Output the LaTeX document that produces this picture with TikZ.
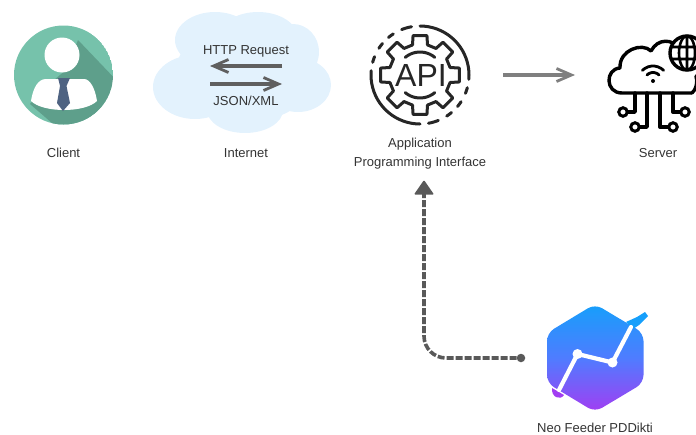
\documentclass[tikz,border=0pt]{standalone}
\usepackage{fontspec}
\setmainfont{Liberation Sans}
\usetikzlibrary{arrows.meta}
\definecolor{txt}{HTML}{333333}
\definecolor{teal1}{HTML}{76C2AB}
\definecolor{teal2}{HTML}{5E9F8B}
\definecolor{tiec}{HTML}{4F6382}
\definecolor{cloudc}{HTML}{E3F2FD}
\definecolor{arrc}{HTML}{5F5F5F}
\definecolor{dashc}{HTML}{595959}
\definecolor{hextop}{HTML}{169FFB}
\definecolor{hexmid}{HTML}{4F7CFF}
\definecolor{hexbot}{HTML}{A23DF2}
\tikzset{
  lab/.style={font=\fontsize{13}{15}\selectfont,text=txt,inner sep=0pt,align=center},
  flow/.style={draw=arrc,line width=3.2pt,-{Straight Barb[length=15pt,width=13pt,line width=2.8pt]}},
  gearline/.style={draw=black!85,line width=3pt,line cap=round,line join=round},
  srv/.style={draw=black,line width=3.4pt,line cap=round,line join=round},
  pin/.style={draw=black,line width=3pt,fill=white,circle,inner sep=0pt,minimum size=8.5pt},
}
\begin{document}
\begin{tikzpicture}[x=1pt,y=-1pt]
\useasboundingbox (0,0) rectangle (696,434);
% Client icon
\begin{scope}
  \clip (63.5,75) circle (49.5);
  \fill[teal1] (63.5,75) circle (49.5);
  \fill[teal2] (78,40) -- (120,84) -- (120,130) -- (60,130) -- (30,104) -- (48,85) -- (66,70) -- cycle;
\end{scope}
\fill[white] (62,55) circle (17.5);
\fill[white] (31,101) .. controls (33,88) and (38,79) .. (46,79) -- (84,79)
  .. controls (90,79) and (95,88) .. (97,101) .. controls (85,113) and (43,113) .. (31,101) -- cycle;
\fill[tiec] (58,78) -- (70,78) -- (66.5,86) -- (70,103) -- (63,111) -- (57,103) -- (60,86) -- cycle;
\node[lab] (client) at (63.5,153) {Client};
% Cloud
\fill[cloudc] (246,72) ellipse (70 and 50)
  (215,40) ellipse (40 and 28)
  (258,38) ellipse (40 and 26)
  (293,52) ellipse (26 and 28)
  (298,85) ellipse (33 and 27)
  (245,110) ellipse (38 and 23)
  (195,87) ellipse (42 and 32);
\node[lab] (http) at (246,51) {HTTP Request};
\node[lab] (json) at (246,101) {JSON/XML};
\node[lab] (internet) at (246,153) {Internet};
\coordinate (cr1) at (282,66);
\coordinate (cl1) at (210,66);
\coordinate (cl2) at (210,84);
\coordinate (cr2) at (282,84);
\draw[flow] (cr1) -- (cl1);
\draw[flow] (cl2) -- (cr2);
% API gear
\begin{scope}[shift={(420,75)}]
  \foreach \a in {0,45,...,315}{
    \draw[gearline] ({31*cos(\a-14)},{31*sin(\a-14)}) -- ({40*cos(\a-10)},{40*sin(\a-10)}) -- ({40*cos(\a+10)},{40*sin(\a+10)}) -- ({31*cos(\a+14)},{31*sin(\a+14)}) -- ({31*cos(\a+31)},{31*sin(\a+31)});
  }
  \draw[gearline] plot[smooth,domain=130:50,samples=12] ({23*cos(\x)},{-23*sin(\x)});
  \draw[gearline] plot[smooth,domain=230:310,samples=12] ({23*cos(\x)},{-23*sin(\x)});
  \draw[gearline] plot[smooth,domain=90:-5,samples=20] ({49*cos(\x)},{-49*sin(\x)});
  \draw[gearline] plot[smooth,domain=270:175,samples=20] ({49*cos(\x)},{-49*sin(\x)});
  \foreach \s/\e in {-15/-22,-33/-40,-50/-57,-68/-80,165/158,147/140,130/123,112/100}{
    \draw[gearline] plot[smooth,domain=\s:\e,samples=4] ({49*cos(\x)},{-49*sin(\x)});
  }
\end{scope}
\node[inner sep=0pt,text=black!85,font=\fontsize{32}{32}\selectfont] (api) at (421,75) {API};
\node[lab] (apitext) at (420,153.5) {Application\\[4pt]Programming Interface};
\coordinate (a1) at (503,75);
\coordinate (a2) at (575,75);
\draw[flow,draw=arrc!80] (a1) -- (a2);
% Server icon
\begin{scope}
  \clip (600,30) rectangle (696,150);
  \draw[srv] (692,93) -- (622,93) .. controls (605,93) and (605,69) .. (620,68)
    .. controls (619,50) and (642,42) .. (651,51) .. controls (658,38) and (672,39) .. (679,48);
  \draw[srv,fill=white] (687,53) circle (17);
  \draw[line width=2.6pt] (687,53) ellipse (8 and 17) (670,47) -- (704,47) (670,59) -- (704,59) (687,36) -- (687,70);
  \draw[srv] (692,93) .. controls (696,90) and (698,82) .. (696,76);
\end{scope}
\draw[srv,line width=2.8pt] plot[smooth,domain=135:45,samples=8] ({653+15*cos(\x)},{81-15*sin(\x)});
\draw[srv,line width=2.8pt] plot[smooth,domain=135:45,samples=8] ({653+8.5*cos(\x)},{81-8.5*sin(\x)});
\fill[black] (653,81) circle (2);
\coordinate (s1) at (635,93);
\coordinate (s2) at (647,93);
\coordinate (s3) at (660,93);
\coordinate (s4) at (673,93);
\coordinate (j1) at (623,112);
\coordinate (j2) at (635,127);
\coordinate (j3) at (673,127);
\coordinate (j4) at (685,112);
\draw[srv] (s1) |- (j1);
\draw[srv] (s2) |- (j2);
\draw[srv] (s3) |- (j3);
\draw[srv] (s4) |- (j4);
\node[pin] (p1) at (j1) {};
\node[pin] (p2) at (j2) {};
\node[pin] (p3) at (j3) {};
\node[pin] (p4) at (j4) {};
\node[lab] (server) at (658,153) {Server};
% Neo Feeder logo
\path[rounded corners=8pt,top color=hextop,bottom color=hexbot,middle color=hexmid]
  (595,304) -- (643.5,333) -- (643.5,383) -- (595,412) -- (547,383) -- (547,333) -- cycle;
\fill[hextop] (626,322) -- (637,317) -- (645,312) -- (648,316) -- (639,325) -- (633,329) -- cycle;
\fill[hexbot] (552,388) .. controls (551,397) and (560,401) .. (564,395) -- cycle;
\draw[white,line width=4.2pt,line join=round,line cap=round] (559,390) -- (577.5,354) -- (612.5,362.5) -- (631,327);
\fill[white] (577.5,354) circle (5) (612.5,362.5) circle (5);
\node[lab] (neo) at (595,428) {Neo Feeder PDDikti};
% Dashed connector
\node[circle,fill=dashc,inner sep=0pt,minimum size=8.5pt] (dot) at (521,358) {};
\coordinate (tip) at (424,180);
\draw[dashc,line width=3.6pt,dash pattern=on 7pt off 2pt,rounded corners=22pt] (dot) -| (424,193);
\fill[dashc,rounded corners=1pt] (tip) -- (434,194.5) -- (414,194.5) -- cycle;
\end{tikzpicture}
\end{document}
